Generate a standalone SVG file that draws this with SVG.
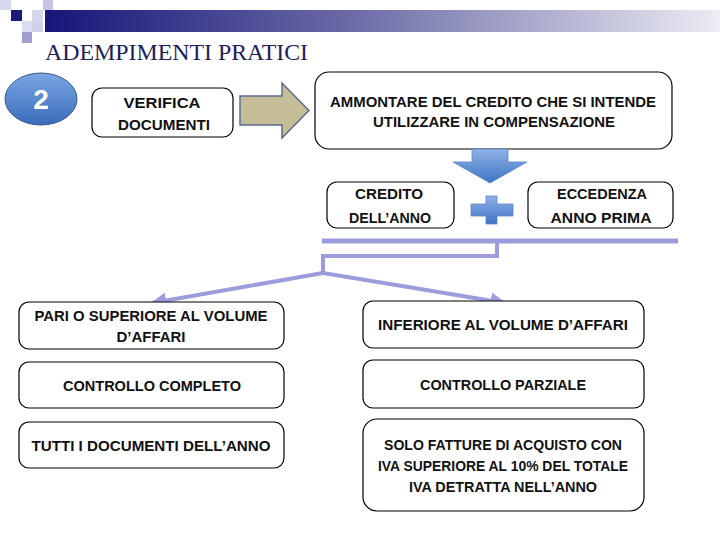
<svg xmlns="http://www.w3.org/2000/svg" width="720" height="540" viewBox="0 0 720 540">
<style>
.box{fill:#fff;stroke:#000;stroke-width:1.2}
.t{font-family:"Liberation Sans",Arial,sans-serif;font-size:15.5px;font-weight:bold;fill:#111;text-anchor:middle}
.conn{fill:none;stroke:#9c9cdc;stroke-linecap:butt}
</style>
<defs>
<linearGradient id="bar" x1="0" y1="0" x2="1" y2="0">
<stop offset="0" stop-color="#16167a"/>
<stop offset="0.45" stop-color="#6a6aa6"/>
<stop offset="1" stop-color="#ececf4"/>
</linearGradient>
<linearGradient id="blue" x1="0" y1="0" x2="0" y2="1">
<stop offset="0" stop-color="#8fb2e6"/>
<stop offset="1" stop-color="#3f74c6"/>
</linearGradient>
<linearGradient id="ell" x1="0" y1="0" x2="0" y2="1">
<stop offset="0" stop-color="#7aa6e2"/>
<stop offset="1" stop-color="#3a6cbc"/>
</linearGradient>
<marker id="ah" viewBox="0 0 10 10" refX="9" refY="5" markerWidth="4" markerHeight="4" orient="auto" markerUnits="strokeWidth">
<path d="M0,0 L10,5 L0,10 z" fill="#9c9cdc"/>
</marker>
</defs>

<g id="header">
<rect x="0" y="0" width="11" height="10" fill="#d8d8ee"/>
<rect x="11" y="10" width="11" height="11" fill="#1c1c78"/>
<rect x="32" y="10" width="11" height="11" fill="#d6d6ec"/>
<rect x="43" y="0" width="10" height="10" fill="#c6c6e4"/>
<rect x="22" y="21" width="10" height="11" fill="#dcdcf0"/>
<rect x="32" y="21" width="11" height="11" fill="#d0d0ea"/>
<rect x="22" y="32" width="10" height="11" fill="#9e9ed0"/>
<rect x="45" y="10" width="675" height="22" fill="url(#bar)"/>
<text x="45" y="60" font-family="Liberation Serif,'Times New Roman',serif" font-size="23" fill="#1e1e5c" textLength="263" lengthAdjust="spacingAndGlyphs">ADEMPIMENTI PRATICI</text>
</g>

<g id="step2">
<ellipse cx="41" cy="99" rx="36" ry="26" fill="url(#ell)" stroke="#3a5a90" stroke-width="1"/>
<text x="41" y="109" font-family="Liberation Sans,Arial,sans-serif" font-size="28" font-weight="bold" fill="#fff" text-anchor="middle">2</text>
</g>

<g id="verifica">
<rect class="box" x="92" y="88" width="141" height="49" rx="10"/>
<text class="t" x="162" y="108" textLength="77" lengthAdjust="spacingAndGlyphs">VERIFICA</text>
<text class="t" x="164" y="130" textLength="92" lengthAdjust="spacingAndGlyphs">DOCUMENTI</text>
</g>

<g id="arrow-right">
<path d="M240,96 L282,96 L282,83 L309,110.5 L282,138 L282,125 L240,125 Z" fill="#c5bd98" stroke="#5c6b8c" stroke-width="1.5"/>
</g>

<g id="ammontare">
<rect class="box" x="315" y="72" width="357" height="77" rx="14"/>
<text class="t" x="493" y="107" textLength="326" lengthAdjust="spacingAndGlyphs">AMMONTARE DEL CREDITO CHE SI INTENDE</text>
<text class="t" x="494" y="127" textLength="242" lengthAdjust="spacingAndGlyphs">UTILIZZARE IN COMPENSAZIONE</text>
</g>

<g id="arrow-down">
<path d="M472,149 L508,149 L508,162 L527,162 L490,183 L453,162 L472,162 Z" fill="url(#blue)" stroke="#5a86c8" stroke-width="0.8"/>
</g>

<g id="credito">
<rect class="box" x="327" y="182" width="127" height="46" rx="10"/>
<text class="t" x="389" y="199" textLength="68" lengthAdjust="spacingAndGlyphs">CREDITO</text>
<text class="t" x="390" y="223" textLength="82" lengthAdjust="spacingAndGlyphs">DELL’ANNO</text>
</g>

<g id="plus">
<path d="M486,196 L497,196 L497,204 L513,204 L513,216 L497,216 L497,224 L486,224 L486,216 L471,216 L471,204 L486,204 Z" fill="url(#blue)" stroke="#5a86c8" stroke-width="0.8"/>
</g>

<g id="eccedenza">
<rect class="box" x="528" y="182" width="145" height="46" rx="10"/>
<text class="t" x="602" y="199" textLength="90" lengthAdjust="spacingAndGlyphs">ECCEDENZA</text>
<text class="t" x="601" y="223" textLength="101" lengthAdjust="spacingAndGlyphs">ANNO PRIMA</text>
</g>

<g id="connectors">
<line class="conn" x1="322" y1="241" x2="678" y2="241" stroke-width="5"/>
<polyline class="conn" points="497,241 497,256 323,256 323,273" stroke-width="4"/>
<line class="conn" x1="323" y1="273" x2="152" y2="303" stroke-width="4" marker-end="url(#ah)"/>
<line class="conn" x1="323" y1="273" x2="505" y2="303" stroke-width="4" marker-end="url(#ah)"/>
</g>

<g id="pari">
<rect class="box" x="19" y="302" width="265" height="47" rx="10"/>
<text class="t" x="151" y="321" textLength="233" lengthAdjust="spacingAndGlyphs">PARI O SUPERIORE AL VOLUME</text>
<text class="t" x="151" y="342" textLength="69" lengthAdjust="spacingAndGlyphs">D’AFFARI</text>
</g>

<g id="inferiore">
<rect class="box" x="363" y="301" width="281" height="47" rx="10"/>
<text class="t" x="503" y="330" textLength="250" lengthAdjust="spacingAndGlyphs">INFERIORE  AL VOLUME D’AFFARI</text>
</g>

<g id="completo">
<rect class="box" x="19" y="362" width="265" height="46" rx="10"/>
<text class="t" x="152" y="391" textLength="178" lengthAdjust="spacingAndGlyphs">CONTROLLO COMPLETO</text>
</g>

<g id="parziale">
<rect class="box" x="363" y="360" width="281" height="48" rx="10"/>
<text class="t" x="503" y="390" textLength="166" lengthAdjust="spacingAndGlyphs">CONTROLLO PARZIALE</text>
</g>

<g id="tutti">
<rect class="box" x="19" y="422" width="265" height="46" rx="10"/>
<text class="t" x="151" y="451" textLength="239" lengthAdjust="spacingAndGlyphs">TUTTI I DOCUMENTI DELL’ANNO</text>
</g>

<g id="solo">
<rect class="box" x="363" y="419" width="281" height="92" rx="14"/>
<text class="t" x="503" y="450" textLength="238" lengthAdjust="spacingAndGlyphs">SOLO FATTURE DI ACQUISTO CON</text>
<text class="t" x="503" y="471" textLength="250" lengthAdjust="spacingAndGlyphs">IVA SUPERIORE AL 10% DEL TOTALE</text>
<text class="t" x="503" y="492" textLength="188" lengthAdjust="spacingAndGlyphs">IVA DETRATTA NELL’ANNO</text>
</g>
</svg>
